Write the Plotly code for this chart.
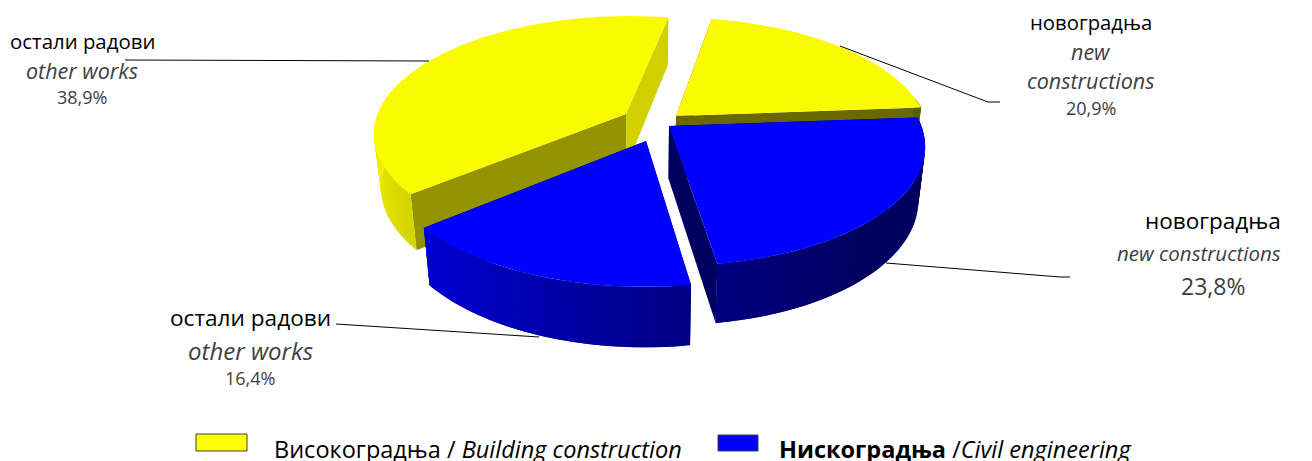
import math
import numpy as np
import plotly.graph_objects as go

# ---- data (percent) ----
slice_names = ["Високоградња – новоградња", "Нискоградња – новоградња",
               "Нискоградња – остали радови", "Високоградња – остали радови"]
slice_values = [20.9, 23.8, 16.4, 38.9]
slice_families = ["y", "b", "b", "y"]
value_labels = ["20,9%", "23,8%", "16,4%", "38,9%"]
label_sr_new = "новоградња"
label_sr_other = "остали радови"
label_en_new = "new constructions"
label_en_other = "other works"
legend_building = "Високоградња / <i>Building construction</i>"
legend_civil = "<b>Нискоградња</b> /<i>Civil engineering</i>"

# ---- 3D projection settings ----
START = 10.5
CX, CY, RX, RY, K, DZ, SHRINK = 650.0, 125.0, 252.0, 117.0, 0.16, 54.0, 0.025
APEX = [(676, 116), (669, 126), (646, 141), (626, 114)]   # exploded slice tips on screen
DRAW_ORDER = [3, 0, 1, 2]
TOP = {"y": (250, 250, 0), "b": (0, 0, 255)}
WALLS = {"y": (255, 255, 0), "b": (0, 0, 255)}
# side wall brightness per slice: (start side, end side)
SIDE_SHADE = {0: (0.4, 0.41), 1: (0.3, 0.375), 2: (0.4, 0.4), 3: (0.58, 0.82)}


def project(wx, wy, z=0.0):
    s = 1.0 / (1.0 - K * wy) * (1.0 - SHRINK * z)
    return CX + RX * wx * s, CY + (RY * wy + DZ * z) * s


def unproject(px, py):
    Y = py - CY
    wy = Y / (RY + K * Y)
    s = 1.0 / (1.0 - K * wy)
    return (px - CX) / (RX * s), wy


def arc_shade(a):
    return float(np.interp(a % 360, [60, 140, 171, 200, 232, 262, 290],
                           [0.37, 0.38, 0.50, 0.68, 0.84, 0.93, 1.0]))


def rgb(base, f):
    return "rgb(%d,%d,%d)" % tuple(round(c * f) for c in base)


def poly(xs, ys, color, name):
    return go.Scatter(x=list(xs) + [xs[0]], y=list(ys) + [ys[0]], mode="lines", fill="toself",
                      fillcolor=color, line=dict(color=color, width=0),
                      hoverinfo="text", text=name, showlegend=False)


fig = go.Figure()
bounds = np.concatenate([[0], np.cumsum(slice_values)]) / sum(slice_values) * 360 + START

for i in DRAW_ORDER:
    a0, a1 = bounds[i], bounds[i + 1]
    ax, ay = unproject(*APEX[i])
    base, name = WALLS[slice_families[i]], slice_names[i]
    ang = np.linspace(a0, a1, 181)
    wx = ax + np.sin(np.radians(ang))
    wy = ay - np.cos(np.radians(ang))
    # cut walls
    for a_idx, j in ((0, 0), (-1, 1)):
        tx, ty = project(ax, ay)
        bx, by = project(ax, ay, 1)
        ex, ey = project(wx[a_idx], wy[a_idx])
        fx, fy = project(wx[a_idx], wy[a_idx], 1)
        fig.add_trace(poly([tx, ex, fx, bx], [ty, ey, fy, by], rgb(base, SIDE_SHADE[i][j]), name))
    # outer wall (front-facing part), in overlapping strips so that its shading can vary
    for k in range(0, len(ang) - 1, 3):
        if not 80 <= ang[k] <= 285:
            continue
        sel = slice(k, k + 7)
        px, py = project(wx[sel], wy[sel])
        qx, qy = project(wx[sel], wy[sel], 1)
        xs = list(px) + list(qx[::-1])
        ys = list(py) + list(qy[::-1])
        fig.add_trace(poly(xs, ys, rgb(base, arc_shade(ang[k + 1])), name))
    # top face
    px, py = project(wx, wy)
    tx, ty = project(ax, ay)
    fig.add_trace(poly([tx] + list(px), [ty] + list(py), rgb(TOP[slice_families[i]], 1), name))

# leader lines
leaders = [([125, 429], [60, 61]),
           ([840, 988, 1000], [46, 102, 102]),
           ([886, 1060, 1070], [263, 277, 277]),
           ([336, 539], [324, 337])]
for lx, ly in leaders:
    fig.add_trace(go.Scatter(x=lx, y=ly, mode="lines", line=dict(color="black", width=1),
                             hoverinfo="skip", showlegend=False))

SANS = "Open Sans"
GREY = "#404040"


def text(x, y, s, size, color="black", anchor="center"):
    fig.add_annotation(x=x, y=y, text=s, showarrow=False, xanchor=anchor, yanchor="middle",
                       font=dict(family=SANS, size=size, color=color))


# other works, building
text(82, 41, label_sr_other, 20.4)
text(82, 70, "<i>%s</i>" % label_en_other, 21.5, GREY)
text(82, 97, value_labels[3], 18, GREY)
# new constructions, building
text(1091, 22, label_sr_new, 20.3)
text(1091, 51, "<i>%s</i>" % label_en_new.split()[0], 21.5, GREY)
text(1091, 80, "<i>%s</i>" % label_en_new.split()[1], 21.5, GREY)
text(1091, 108, value_labels[0], 18, GREY)
# new constructions, civil
text(1213, 220, label_sr_new, 22.5)
text(1199, 253, "<i>%s</i>" % label_en_new, 20.5, GREY)
text(1213, 286, value_labels[1], 23, GREY)
# other works, civil
text(250, 317, label_sr_other, 22.6)
text(250, 350, "<i>%s</i>" % label_en_other, 24, GREY)
text(250, 378, value_labels[2], 18, GREY)
# legend
text(272, 449, legend_building, 23.5, "black", "left")
text(777, 449, legend_civil, 23.5, "black", "left")
fig.add_shape(type="rect", x0=196, x1=247, y0=434, y1=451, fillcolor="#FFFF00",
              line=dict(color="#404040", width=1))
fig.add_shape(type="rect", x0=718, x1=758, y0=435, y1=451, fillcolor="#0000FF",
              line=dict(color="#404040", width=1))

fig.update_xaxes(range=[0, 1312], visible=False, fixedrange=True)
fig.update_yaxes(range=[461, 0], visible=False, fixedrange=True)
fig.update_layout(width=1312, height=461, margin=dict(l=0, r=0, t=0, b=0),
                  paper_bgcolor="white", plot_bgcolor="white", showlegend=False)
fig.write_html("out.html", config=dict(displayModeBar=False),
               post_script="document.body.style.margin='0';")
